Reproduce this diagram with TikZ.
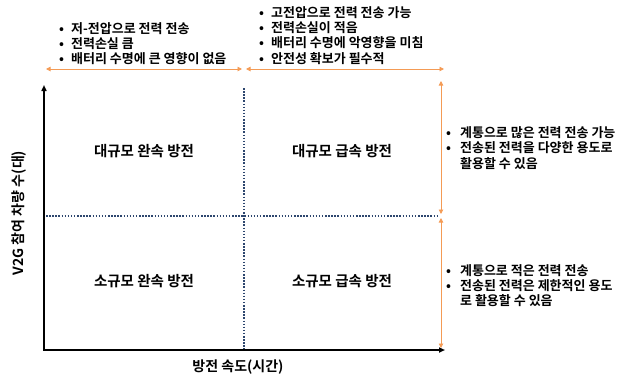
\documentclass[tikz,border=0pt]{standalone}
\usepackage{fontspec}
\setmainfont{Noto Sans CJK KR}[BoldFont={Noto Sans CJK KR Bold}]
\usetikzlibrary{arrows.meta}
\definecolor{orng}{RGB}{244,155,85}
\definecolor{dotblue}{RGB}{45,70,110}
\tikzset{
  axisline/.style={black, line width=1.7pt, line join=miter, {Triangle[length=6pt,width=5pt]}-{Triangle[length=6pt,width=5pt]}},
  gridline/.style={dotblue, line width=1.7pt, dash pattern=on 1.5pt off 1.6pt},
  orangearr/.style={orng, line width=0.9pt, {Triangle[length=4.5pt,width=4.5pt]}-{Triangle[length=4.5pt,width=4.5pt]}},
  quad/.style={font=\fontsize{14.5}{16}\selectfont\bfseries, inner sep=0pt},
  axlabel/.style={font=\fontsize{14}{16}\selectfont\bfseries, inner sep=0pt},
  blist/.style={font=\fontsize{13}{14}\selectfont\bfseries, inner sep=0pt, anchor=west, align=left}
}
\newcommand{\bl}{\textbullet}
\begin{document}
\begin{tikzpicture}[x=1pt,y=-1pt]
\useasboundingbox (0,0) rectangle (627,373);
% axes
\coordinate (O) at (44,350);
\coordinate (Ytop) at (44,85);
\coordinate (Xend) at (445,350);
\draw[axisline] (Ytop) -- (O) -- (Xend);
% dotted grid
\coordinate (vt) at (244,88);
\coordinate (vb) at (244,349);
\coordinate (hl) at (46,216);
\coordinate (hr) at (439,216);
\draw[gridline] (vt) -- (vb);
\draw[gridline] (hl) -- (hr);
% orange arrows
\coordinate (tl1) at (46,69);
\coordinate (tl2) at (242,69);
\coordinate (tr1) at (246,69);
\coordinate (tr2) at (444,69);
\coordinate (rv1) at (441,81);
\coordinate (rv2) at (441,214);
\coordinate (rv3) at (441,218);
\coordinate (rv4) at (441,348);
\draw[orangearr] (tl1) -- (tl2);
\draw[orangearr] (tr1) -- (tr2);
\draw[orangearr] (rv1) -- (rv2);
\draw[orangearr] (rv3) -- (rv4);
% quadrant labels
\node[quad] (q1) at (144,151) {대규모 완속 방전};
\node[quad] (q2) at (342,151) {대규모 급속 방전};
\node[quad] (q3) at (144,281) {소규모 완속 방전};
\node[quad] (q4) at (342,281) {소규모 급속 방전};
% axis labels
\node[axlabel, rotate=90] (ylab) at (19,213) {V2G 참여 차량 수(대)};
\node[axlabel] (xlab) at (238,367) {방전 속도(시간)};
% lists
\node[blist] (tlist) at (59,45) {\begin{tabular}{@{}l@{\hspace{7pt}}l@{}}
\bl & 저-전압으로 전력 전송\\
\bl & 전력손실 큼\\
\bl & 배터리 수명에 큰 영향이 없음
\end{tabular}};
\node[blist] (trlist) at (259,37) {\begin{tabular}{@{}l@{\hspace{7pt}}l@{}}
\bl & 고전압으로 전력 전송 가능\\
\bl & 전력손실이 적음\\
\bl & 배터리 수명에 악영향을 미침\\
\bl & 안전성 확보가 필수적
\end{tabular}};
\node[blist] (rtlist) at (446,149.5) {\begin{tabular}{@{}l@{\hspace{9pt}}l@{}}
\bl & 계통으로 많은 전력 전송 가능\\
\bl & 전송된 전력을 다양한 용도로\\
 & 활용할 수 있음
\end{tabular}};
\node[blist] (rblist) at (446,287) {\begin{tabular}{@{}l@{\hspace{9pt}}l@{}}
\bl & 계통으로 적은 전력 전송\\
\bl & 전송된 전력은 제한적인 용도\\
 & 로 활용할 수 있음
\end{tabular}};
\end{tikzpicture}
\end{document}
